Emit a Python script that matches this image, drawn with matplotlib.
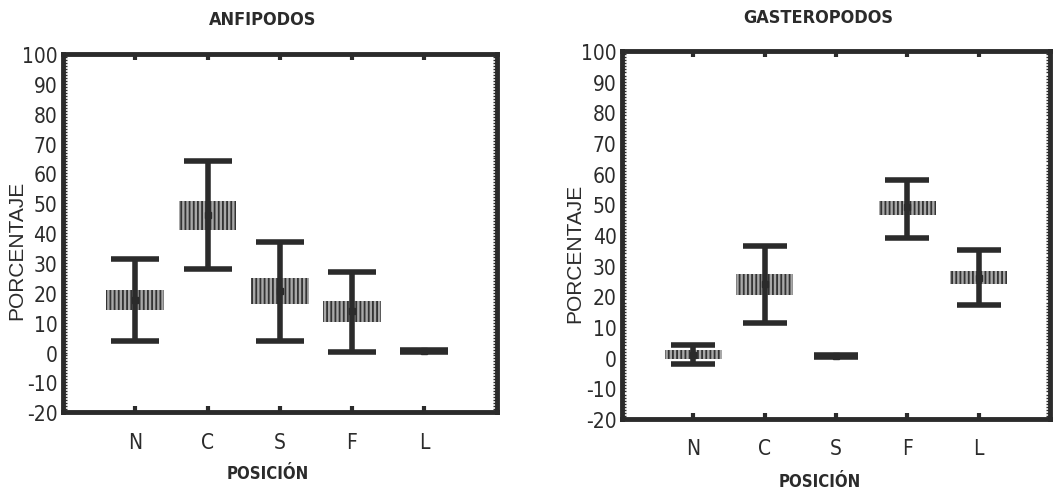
import matplotlib

matplotlib.use("Agg")
import matplotlib.pyplot as plt
from matplotlib.ticker import MultipleLocator

plt.rcParams["hatch.linewidth"] = 1.3
plt.rcParams["axes.unicode_minus"] = False

positions = ["N", "C", "S", "F", "L"]
y_ticks = [-20, -10, 0, 10, 20, 30, 40, 50, 60, 70, 80, 90, 100]

# ANFIPODOS
anf_mean = [17.5, 46.0, 20.5, 13.8, 0.5]
anf_box_lo = [14.2, 41.2, 16.2, 10.2, 0.4]
anf_box_hi = [21.0, 50.8, 24.9, 17.3, 0.6]
anf_wh_lo = [4.0, 28.0, 4.0, 0.3, 0.2]
anf_wh_hi = [31.2, 64.0, 37.0, 27.0, 0.8]

# GASTEROPODOS
gas_mean = [1.0, 24.0, 0.5, 49.0, 26.0]
gas_box_lo = [-0.5, 20.3, 0.4, 46.5, 24.0]
gas_box_hi = [2.5, 27.2, 0.6, 51.0, 28.3]
gas_wh_lo = [-2.0, 11.3, 0.2, 39.0, 17.3]
gas_wh_hi = [4.0, 36.5, 0.8, 58.0, 35.0]

INK = "#2b2b2b"
COND = dict(family="DejaVu Sans", stretch="condensed")


def draw_panel(ax, mean, box_lo, box_hi, wh_lo, wh_hi, capsize):
    x = list(range(1, len(positions) + 1))
    heights = [h - l for h, l in zip(box_hi, box_lo)]
    ax.bar(x, heights, bottom=box_lo, width=0.8, color="#a8a8a8",
           edgecolor="#333333", linewidth=0.0, hatch="||||", zorder=2)
    yerr = [[m - l for m, l in zip(mean, wh_lo)],
            [h - m for m, h in zip(mean, wh_hi)]]
    ax.errorbar(x, mean, yerr=yerr, fmt="s", color=INK, markersize=5,
                elinewidth=4, capsize=capsize, capthick=4, zorder=3)
    ax.set_xlim(0, 6)
    ax.set_ylim(-20, 100)
    ax.set_xticks(x)
    ax.set_xticklabels(positions)
    ax.set_yticks(y_ticks)
    ax.yaxis.set_minor_locator(MultipleLocator(1))
    for side in ax.spines.values():
        side.set_linewidth(3.5)
        side.set_color(INK)
    ax.tick_params(axis="x", direction="in", top=True, length=4, width=3,
                   color=INK, pad=14)
    ax.tick_params(axis="y", which="both", direction="in", right=True,
                   length=3, width=1, color=INK, pad=4)
    for lab in ax.get_xticklabels() + ax.get_yticklabels():
        lab.set_family("DejaVu Sans")
        lab.set_stretch("condensed")
        lab.set_fontsize(15)
        lab.set_color(INK)


fig = plt.figure(figsize=(10.55, 4.89), dpi=100)
ax1 = fig.add_axes([0.0597, 0.155, 0.411, 0.7325])
ax2 = fig.add_axes([0.5896, 0.141, 0.4057, 0.7526])

draw_panel(ax1, anf_mean, anf_box_lo, anf_box_hi, anf_wh_lo, anf_wh_hi, 17)
draw_panel(ax2, gas_mean, gas_box_lo, gas_box_hi, gas_wh_lo, gas_wh_hi, 16)

fig.text(263 / 1055, 1 - 20 / 489, "ANFIPODOS", ha="center", va="center",
         fontsize=13, weight="bold", color=INK, **COND)
fig.text(818 / 1055, 1 - 18 / 489, "GASTEROPODOS", ha="center", va="center",
         fontsize=13, weight="bold", color=INK, **COND)
fig.text(268 / 1055, 1 - 474 / 489, "POSICIÓN", ha="center", va="center",
         fontsize=12, weight="bold", color=INK, **COND)
fig.text(820 / 1055, 1 - 482 / 489, "POSICIÓN", ha="center", va="center",
         fontsize=12, weight="bold", color=INK, **COND)
fig.text(17 / 1055, 1 - 250 / 489, "PORCENTAJE", ha="center", va="center",
         rotation=90, family=["Liberation Sans", "DejaVu Sans"], fontsize=15,
         color=INK)
fig.text(575 / 1055, 1 - 253 / 489, "PORCENTAJE", ha="center", va="center",
         rotation=90, family=["Liberation Sans", "DejaVu Sans"], fontsize=15,
         color=INK)

fig.savefig("out.png", dpi=100)
plt.close(fig)
